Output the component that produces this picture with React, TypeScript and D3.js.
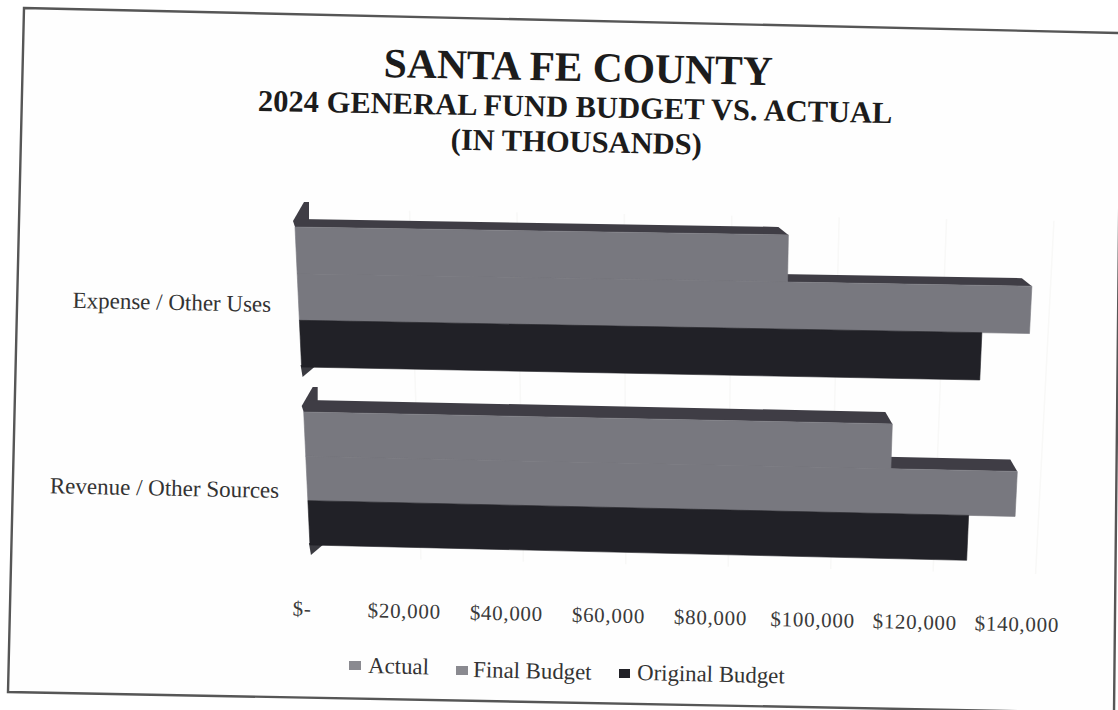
import React from "react";
import * as d3 from "d3";

const categories = ["Expense / Other Uses", "Revenue / Other Sources"];
const seriesNames = ["Actual", "Final Budget", "Original Budget"];
const actual = [92100, 112650];
const finalBudget = [138000, 137000];
const originalBudget = [129000, 128000];
const tickValues = [0, 20000, 40000, 60000, 80000, 100000, 120000, 140000];

const faceColors = ["#78787f", "#78787f", "#212127"];
const topColor = "#3f3d45";
const serif = "'Liberation Serif', serif";

const xScale = d3.scaleLinear().domain([0, 140000]).range([0, 750]);

// Each category occupies its own slab of the receding plot.
const rowSpan = [
  { top: 0, bottom: 140, depth: 8, back: 10 },
  { top: 185, bottom: 318, depth: 12, back: 7 },
];

// The 3D plot is foreshortened: bars lean inward and run slightly downhill.
const project = (u: number, v: number): [number, number] => [
  295 + 0.047 * v + u * (1 - 0.000133 * v),
  227 + v + u * (0.016 + 0.00002 * v),
];

const polygon = (pts: [number, number][]) => d3.line()(pts) + "Z";

const moneyLabel = (v: number) => (v === 0 ? "$-" : "$" + d3.format(",")(v));

function Slanted({ x, y, angle = 1.2, anchor = "middle", size, weight, fill = "#222", text, spacing }: any) {
  return (
    <text
      transform={`translate(${x},${y}) rotate(${angle})`}
      textAnchor={anchor}
      fontFamily={serif}
      fontSize={size}
      fontWeight={weight}
      fill={fill}
      letterSpacing={spacing}
    >
      {text}
    </text>
  );
}

export default function App() {
  const rows = categories.map((cat, i) => {
    const span = rowSpan[i];
    const band = d3
      .scaleBand<number>()
      .domain([0, 1, 2])
      .range([span.top, span.bottom]);
    const values = [actual[i], finalBudget[i], originalBudget[i]];
    return { cat, span, band, values };
  });

  const legend = [
    { sx: 349, sy: 661, sw: 12, tx: 368, ty: 673, c: "#8a8a90" },
    { sx: 456, sy: 666, sw: 12, tx: 473, ty: 677, c: "#8a8a90" },
    { sx: 619, sy: 669, sw: 11, tx: 637, ty: 680, c: "#212127" },
  ];

  return (
    <svg
      width={1118}
      height={710}
      style={{ position: "fixed", left: 0, top: 0, background: "#ffffff" }}
    >
      <path
        d={polygon([[24, 8], [1121, 33], [1114, 713], [8, 692]])}
        fill="#fefefe"
        stroke="#565656"
        strokeWidth={2.4}
      />

      {tickValues.slice(1).map((t) => {
        const u = xScale(t);
        const [x1, y1] = project(u, -18);
        const [x2, y2] = project(u, 330);
        return <line key={t} x1={x1 + 8} y1={y1} x2={x2 + 8} y2={y2} stroke="#f8f8f7" strokeWidth={1.5} />;
      })}

      <Slanted x={578} y={81} size={41.5} weight="bold" fill="#1c1c1c" text="SANTA FE COUNTY" />
      <Slanted x={575} y={117} size={30.5} weight="bold" fill="#1c1c1c" angle={1.1} text="2024 GENERAL FUND BUDGET VS. ACTUAL" />
      <Slanted x={576} y={152} size={30.5} weight="bold" fill="#1c1c1c" angle={1.1} text="(IN THOUSANDS)" />

      {rows.map(({ cat, span, band, values }, i) => {
        const first = band(0) as number;
        const last = (band(2) as number) + band.bandwidth();
        const wedgeTop = project(0, first);
        const wedgeBottom = project(0, last);
        return (
          <g key={cat}>
            {/* wall and floor slivers at the zero end of the bars */}
            <path
              d={polygon([
                [wedgeTop[0] - 2, wedgeTop[1] - 6],
                [wedgeTop[0] + 9, wedgeTop[1] - 25],
                [wedgeTop[0] + 14, wedgeTop[1] - 25],
                [wedgeTop[0] + 14, wedgeTop[1]],
                [wedgeTop[0], wedgeTop[1]],
              ])}
              fill={topColor}
            />
            <path
              d={polygon([
                [wedgeBottom[0] - 1, wedgeBottom[1] - 2],
                [wedgeBottom[0] + 14, wedgeBottom[1] - 1],
                [wedgeBottom[0] + 1, wedgeBottom[1] + 10],
              ])}
              fill="#3a3a40"
            />
            {/* top faces, back to front */}
            {values.map((v, j) => {
              const u = xScale(v);
              const vTop = band(j) as number;
              const a = project(0, vTop);
              const b = project(u, vTop);
              return (
                <path
                  key={j}
                  d={polygon([
                    a,
                    b,
                    [b[0] - span.back, b[1] - span.depth],
                    [a[0] + 4, a[1] - span.depth],
                  ])}
                  fill={topColor}
                />
              );
            })}
            {/* front faces: the longer Final Budget bar reads past Actual */}
            {values.map((v, j) => {
              const u = xScale(v);
              const vTop = band(j) as number;
              const vBottom = vTop + band.bandwidth();
              return (
                <path
                  key={j}
                  d={polygon([
                    project(0, vTop),
                    project(u, vTop),
                    project(u, vBottom),
                    project(0, vBottom),
                  ])}
                  fill={faceColors[j]}
                  stroke={faceColors[j]}
                  strokeWidth={0.6}
                />
              );
            })}
          </g>
        );
      })}

      <Slanted x={271} y={312} anchor="end" size={23} fill="#333" text={categories[0]} />
      <Slanted x={279} y={498} anchor="end" size={23} fill="#333" text={categories[1]} />

      {tickValues.map((t) => {
        const x = 302 + (t / 20000) * 102.1;
        return (
          <Slanted
            key={t}
            x={x}
            y={618 + (x - 404) * 0.0215}
            size={21}
            spacing={0.7}
            fill="#3a3a3a"
            angle={1.2}
            text={moneyLabel(t)}
          />
        );
      })}

      {seriesNames.map((name, i) => {
        const l = legend[i];
        return (
          <g key={name}>
            <rect x={l.sx} y={l.sy} width={l.sw} height={9} fill={l.c} />
            <Slanted x={l.tx} y={l.ty} anchor="start" size={22.8} fill="#333" angle={1.3} text={name} />
          </g>
        );
      })}
    </svg>
  );
}
